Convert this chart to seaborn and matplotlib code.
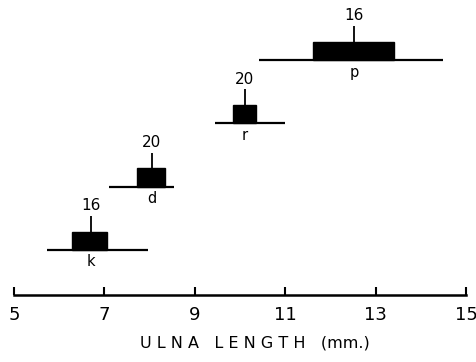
import matplotlib
matplotlib.use("Agg")
import matplotlib.pyplot as plt
import seaborn as sns

# data (ulna length, mm)
labels = ["k", "d", "r", "p"]
counts = [16, 20, 20, 16]
range_lo = [5.73, 7.10, 9.45, 10.43]
range_hi = [7.96, 8.54, 11.00, 14.50]
box_lo = [6.28, 7.73, 9.85, 11.61]
box_hi = [7.05, 8.34, 10.35, 13.41]
means = [6.70, 8.05, 10.11, 12.52]
xticks = [5, 7, 9, 11, 13, 15]

sns.set_style("white")
plt.rcParams["font.family"] = ["DejaVu Sans"]
plt.rcParams["text.color"] = "black"
plt.rcParams["axes.labelcolor"] = "black"
plt.rcParams["xtick.color"] = "black"

fig = plt.figure(figsize=(4.77, 3.62), dpi=100)
ax = fig.add_axes([14 / 477, 67 / 362, 452 / 477, 295 / 362])

rows = list(range(len(labels)))
box_h = 0.29
tick_h = 0.25

ax.hlines(rows, range_lo, range_hi, color="black", lw=1.6)
ax.barh(rows, [h - l for l, h in zip(box_lo, box_hi)], left=box_lo,
        height=box_h, align="edge", color="black", edgecolor="black")
ax.vlines(means, [r + box_h for r in rows], [r + box_h + tick_h for r in rows],
          color="black", lw=1.3)

for r, m, n, lab in zip(rows, means, counts, labels):
    ax.text(m, r + box_h + tick_h + 0.04, str(n), ha="center", va="bottom",
            fontsize=11)
    ax.text(m, r - 0.07, lab, ha="center", va="top", fontsize=10.5)

ax.set_xlim(5, 15)
ax.set_ylim(-0.711, 3.949)
ax.set_xticks(xticks)
ax.set_yticks([])
ax.tick_params(axis="x", direction="in", length=6, width=1.5, labelsize=13,
               pad=8, bottom=True)
ax.set_xlabel("U L N A   L E N G T H   (mm.)", fontsize=11.5)
ax.xaxis.set_label_coords(0.533, -0.136)
sns.despine(ax=ax, left=True, top=True, right=True)
ax.spines["bottom"].set_linewidth(1.8)
ax.spines["bottom"].set_color("black")
ax.set_facecolor("white")

fig.savefig("out.png", dpi=100, facecolor="white")
